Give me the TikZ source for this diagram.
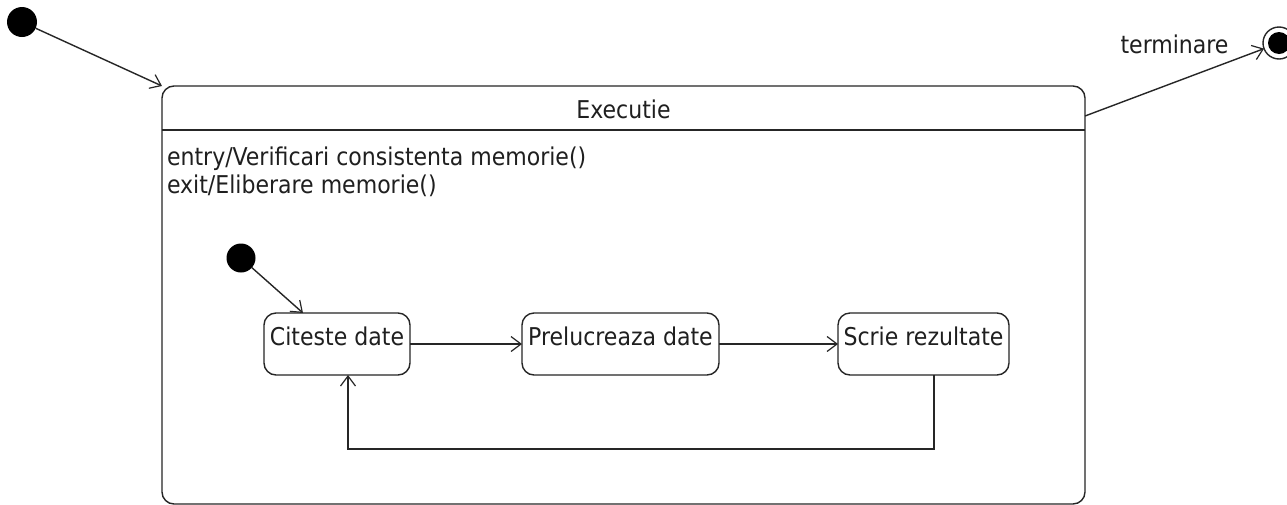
\documentclass[tikz,border=0pt]{standalone}
\usepackage{fontspec}
\setmainfont{DejaVu Sans Condensed}
\usetikzlibrary{arrows.meta,calc}
\begin{document}
\begin{tikzpicture}[x=1pt,y=-1pt,
  every node/.style={inner sep=0pt,outer sep=0pt,text=black!88},
  line/.style={draw=black!85,line width=1.4pt},
  trans/.style={line,-{Straight Barb[length=10pt,width=15pt,line width=1.2pt]}},
  startdot/.style={circle,fill=black,minimum size=30pt},
  statebox/.style={line,rectangle,rounded corners=12pt,minimum height=62pt,
    inner xsep=0pt,inner ysep=6pt,text height=26pt,text depth=24pt},
  txt/.style={font=\fontsize{24.5}{28}\selectfont}
]
\useasboundingbox[fill=white] (0,0) rectangle (1287,504);

% composite state
\node[line,rectangle,rounded corners=12pt,minimum width=923pt,minimum height=418pt] (exec) at (623.5,295) {};
\draw[line] ($(exec.north west)+(0,44)$) -- ($(exec.north east)+(0,44)$);
\node[txt] (title) at (623.5,109) {Executie};
\node[txt,anchor=base west,align=left] (actions) at (167,193) {entry/Verificari consistenta memorie()\\exit/Eliberare memorie()};

% top-level initial and final states
\node[startdot] (init) at (22,22) {};
\node[circle,line,minimum size=32pt] (fin) at (1279,43) {};
\fill[black] (fin.center) circle (11);

\draw[trans] (init) -- (exec.north west);
\draw[trans] ($(exec.north east)+(0,30)$) -- node[txt,pos=0.5,yshift=38pt] (termlbl) {terminare} (fin);

% inner states
\node[startdot,minimum size=29pt] (init2) at (241,258) {};
\node[statebox,txt,minimum width=146pt] (cit) at (337,344) {Citeste date};
\node[statebox,txt,minimum width=197pt] (prel) at (620.5,344) {Prelucreaza date};
\node[statebox,txt,minimum width=171pt] (scrie) at (923.5,344) {Scrie rezultate};

\draw[trans] (init2) -- ([xshift=-34pt]cit.north);
\draw[trans] (cit) -- (prel);
\draw[trans] (prel) -- (scrie);
\draw[trans] ([xshift=10.5pt]scrie.south) -- ++(0,74) -| ([xshift=11pt]cit.south);
\end{tikzpicture}
\end{document}
